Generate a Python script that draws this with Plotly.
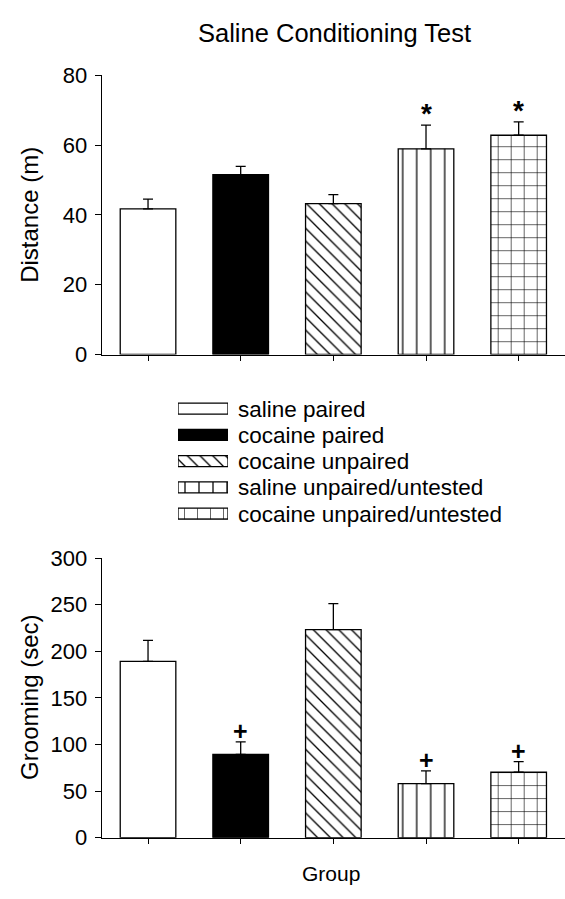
import plotly.graph_objects as go

# Groups (also the legend entries)
groups = [
    "saline paired",
    "cocaine paired",
    "cocaine unpaired",
    "saline unpaired/untested",
    "cocaine unpaired/untested",
]

# Distance travelled (m): mean and SEM
distance_mean = [41.7, 51.5, 43.2, 58.9, 62.8]
distance_sem = [2.8, 2.4, 2.6, 6.8, 3.8]
distance_marks = ["", "", "", "*", "*"]

# Grooming time (sec): mean and SEM
grooming_mean = [189.2, 89.3, 223.3, 58.0, 70.2]
grooming_sem = [22.5, 13.6, 27.8, 13.6, 11.5]
grooming_marks = ["", "+", "", "+", "+"]

FONT = "Liberation Sans, Arial, sans-serif"
W, H = 565, 899

# Fill style of each group
styles = [
    dict(color="white"),
    dict(color="black"),
    dict(color="white", pattern=dict(shape="\\", size=9, solidity=0.15,
                                     fgcolor="black", bgcolor="white",
                                     fillmode="replace")),
    dict(color="white", pattern=dict(shape="|", size=14, solidity=0.09,
                                     fgcolor="black", bgcolor="white",
                                     fillmode="replace")),
    dict(color="white", pattern=dict(shape="+", size=13, solidity=0.09,
                                     fgcolor="black", bgcolor="white",
                                     fillmode="replace")),
]


def px_x(p):
    return p / W


def px_y(p):
    return 1 - p / H


fig = go.Figure()

for i, g in enumerate(groups):
    marker = dict(line=dict(color="black", width=1.3), **styles[i])
    for means, sems, xa, ya in [
        (distance_mean, distance_sem, "x", "y"),
        (grooming_mean, grooming_sem, "x2", "y2"),
    ]:
        fig.add_trace(go.Bar(
            x=[g], y=[means[i]], width=0.6, marker=marker,
            error_y=dict(type="data", symmetric=False, array=[sems[i]],
                         arrayminus=[0], color="black",
                         thickness=1.3, width=5),
            xaxis=xa, yaxis=ya, showlegend=False,
        ))
    # legend swatch: a short horizontal bar on its own small axis pair
    fig.add_trace(go.Bar(
        y=[g], x=[1], orientation="h", width=0.42, marker=marker,
        xaxis="x3", yaxis="y3", showlegend=False,
    ))

x_dom = [px_x(101.7), 1.0]
common_x = dict(domain=x_dom, range=[-0.5, 4.5], showline=True,
                linecolor="black", linewidth=1.3, ticks="outside",
                ticklen=5, tickcolor="black", tickwidth=1.3,
                showticklabels=False, showgrid=False, zeroline=False)
common_y = dict(showline=True, linecolor="black", linewidth=1.3,
                ticks="outside", ticklen=6, tickcolor="black", tickwidth=1.3,
                tickfont=dict(family=FONT, size=22, color="black"),
                showgrid=False, zeroline=False, ticklabelstandoff=3)

fig.update_layout(
    width=W, height=H,
    margin=dict(l=0, r=0, t=0, b=0),
    paper_bgcolor="white", plot_bgcolor="white",
    font=dict(family=FONT, color="black"),
    barmode="overlay",
    xaxis=dict(**common_x, anchor="y"),
    yaxis=dict(**common_y, domain=[px_y(352.3), px_y(65)],
               range=[0, 80], dtick=20, anchor="x"),
    xaxis2=dict(**common_x, anchor="y2"),
    yaxis2=dict(**common_y, domain=[px_y(849.3), px_y(561.7)],
                range=[0, 300], dtick=50, anchor="x2"),
    xaxis3=dict(domain=[px_x(178), px_x(228)], range=[0, 1], visible=False,
                anchor="y3"),
    yaxis3=dict(domain=[px_y(529.5), px_y(394.5)], autorange="reversed",
                side="right", showline=False, ticks="", showgrid=False,
                zeroline=False, ticklabelstandoff=9, anchor="x3",
                tickmode="array", tickvals=groups, ticktext=groups,
                tickfont=dict(family=FONT, size=22.5, color="black")),
)


def label(text, x, y, size, angle=0):
    return dict(text=text, x=x, y=y, xref="paper", yref="paper",
                xanchor="center", yanchor="middle", showarrow=False,
                textangle=angle, font=dict(family=FONT, size=size,
                                           color="black"))


annotations = [
    label("Saline Conditioning Test", px_x(334), px_y(22), 25.5),
    label("Distance (m)", px_x(30), (px_y(352.3) + px_y(65)) / 2, 24, -90),
    label("Grooming (sec)", px_x(30), (px_y(849.3) + px_y(561.7)) / 2, 24, -90),
    label("Group", px_x(331), px_y(886), 21),
]

for g, m, s, mark in zip(groups, distance_mean, distance_sem, distance_marks):
    if mark:
        annotations.append(dict(text="<b>*</b>", x=g, y=m + s, xref="x",
                                yref="y", xanchor="center", yanchor="bottom",
                                showarrow=False, yshift=-6,
                                font=dict(family=FONT, size=28, color="black")))
for g, m, s, mark in zip(groups, grooming_mean, grooming_sem, grooming_marks):
    if mark:
        annotations.append(dict(text="<b>+</b>", x=g, y=m + s, xref="x2",
                                yref="y2", xanchor="center", yanchor="bottom",
                                showarrow=False, yshift=-5,
                                font=dict(family=FONT, size=25, color="black")))

fig.update_layout(annotations=annotations)

fig.write_html("out.html")
